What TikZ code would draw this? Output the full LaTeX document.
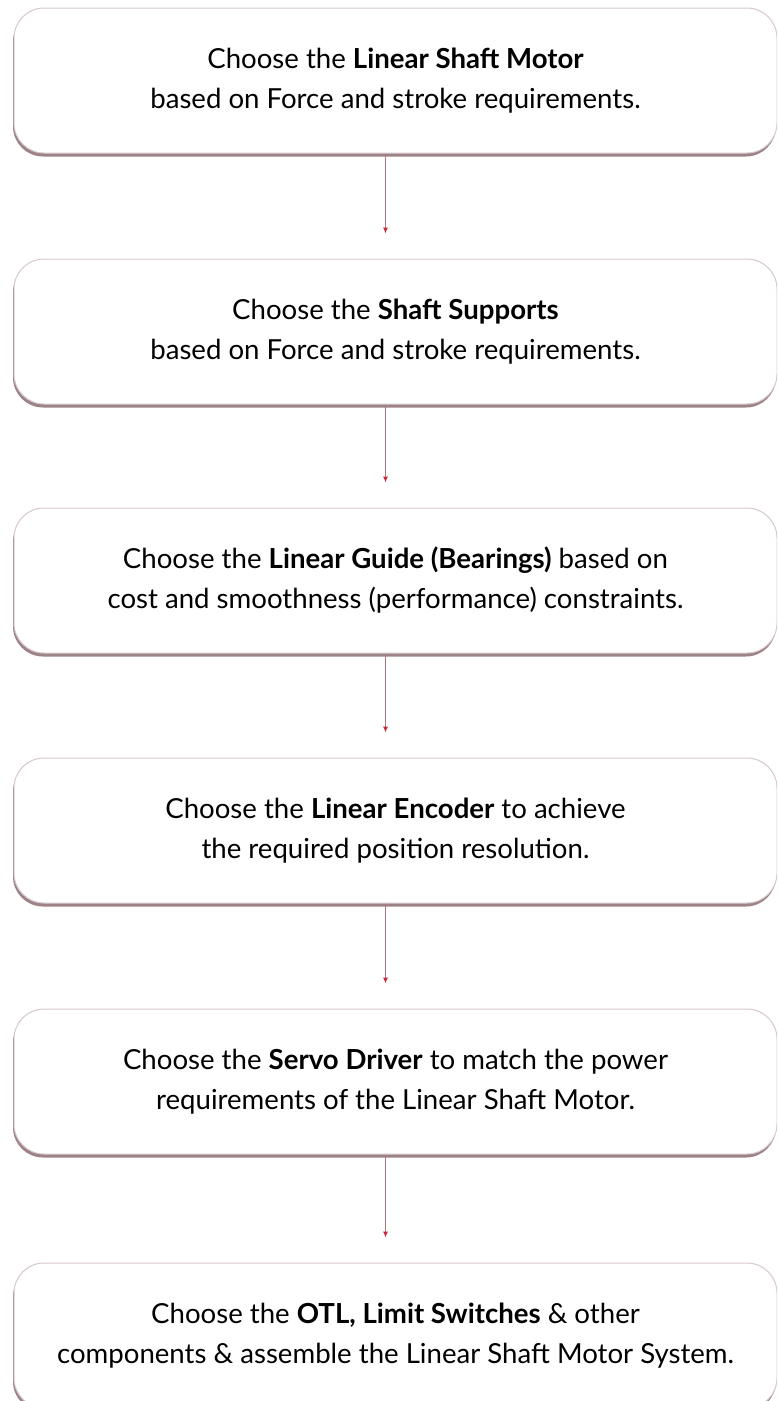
\documentclass[tikz,border=0pt]{standalone}
\usepackage{fontspec}
\setmainfont{Lato}
\usetikzlibrary{positioning,shadows,arrows.meta}
\definecolor{boxedge}{RGB}{214,200,204}
\definecolor{boxshade}{RGB}{105,65,70}
\definecolor{linkline}{RGB}{170,120,125}
\definecolor{linktip}{RGB}{200,40,55}
\begin{document}
\begin{tikzpicture}[x=1pt, y=1pt,
  stagebox/.style={draw=boxedge, line width=1pt, fill=white, rounded corners=30pt,
    minimum width=763pt, minimum height=145pt, align=center,
    font=\fontsize{27.6}{40}\selectfont,
    drop shadow={shadow xshift=-1pt, shadow yshift=-3.5pt, opacity=0.65, fill=boxshade}},
  link/.style={linkline, line width=1pt, -{Latex[length=6pt, width=5pt, linktip]}, shorten >=25pt}]
  \useasboundingbox (0,0) rectangle (777,-1401);
  \clip (0,0) rectangle (777,-1401);
  \node[stagebox] (motor) at (395.5,-80.5)
    {Choose the \textbf{Linear Shaft Motor}\\based on Force and stroke requirements.};
  \node[stagebox, below=105pt of motor] (supports)
    {Choose the \textbf{Shaft Supports}\\based on Force and stroke requirements.};
  \node[stagebox, below=103pt of supports] (guide)
    {Choose the \textbf{Linear Guide (Bearings)} based on\\cost and smoothness (performance) constraints.};
  \node[stagebox, below=104pt of guide] (encoder)
    {Choose the \textbf{Linear Encoder} to achieve\\the required position resolution.};
  \node[stagebox, below=105pt of encoder] (driver)
    {Choose the \textbf{Servo Driver} to match the power\\requirements of the Linear Shaft Motor.};
  \node[stagebox, below=108pt of driver] (system)
    {Choose the \textbf{OTL, Limit Switches} \& other\\components \& assemble the Linear Shaft Motor System.};
  % connectors
  \draw[link] ([xshift=-10pt]motor.south) -- ([xshift=-10pt]supports.north);
  \draw[link] ([xshift=-10pt]supports.south) -- ([xshift=-10pt]guide.north);
  \draw[link] ([xshift=-10pt]guide.south) -- ([xshift=-10pt]encoder.north);
  \draw[link] ([xshift=-10pt]encoder.south) -- ([xshift=-10pt]driver.north);
  \draw[link] ([xshift=-10pt]driver.south) -- ([xshift=-10pt]system.north);
\end{tikzpicture}
\end{document}
